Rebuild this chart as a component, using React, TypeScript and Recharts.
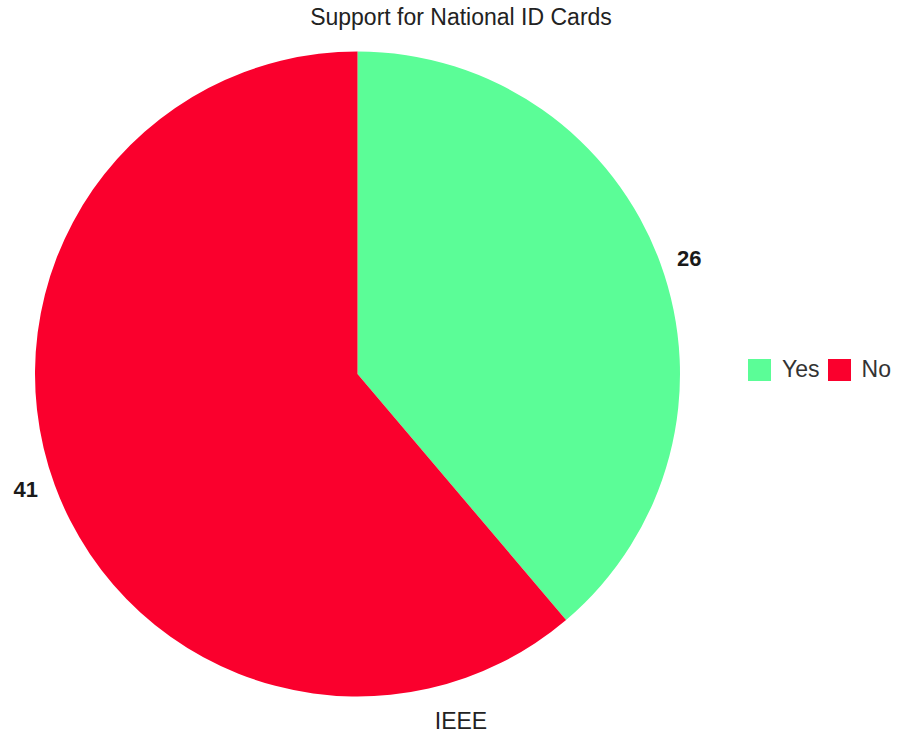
import { Cell, Legend, Pie, PieChart } from 'recharts';

const categories = ['Yes', 'No'];
const counts = [26, 41];
const colors = ['#5BFD97', '#FA002D'];

const title = 'Support for National ID Cards';
const caption = 'IEEE';

const data = categories.map((name, i) => ({ name, value: counts[i] }));

const FONT = '"Liberation Sans", Arial, sans-serif';
const RAD = Math.PI / 180;

function renderLabel(props: any) {
  const { cx, cy, midAngle, outerRadius, value } = props;
  const r = outerRadius + 31;
  const x = cx + r * Math.cos(-midAngle * RAD);
  const y = cy + r * Math.sin(-midAngle * RAD) * 0.95;
  return (
    <text
      x={x}
      y={y}
      textAnchor="middle"
      dominantBaseline="central"
      fill="#1a1a1a"
      fontWeight="bold"
      fontSize={22}
      fontFamily={FONT}
    >
      {value}
    </text>
  );
}

function renderLegend() {
  return (
    <div style={{ display: 'flex', alignItems: 'center', fontFamily: FONT, fontSize: 23, color: '#333' }}>
      {categories.map((c, i) => (
        <div key={c} style={{ display: 'flex', alignItems: 'center', marginRight: 8 }}>
          <span style={{ width: 23, height: 22, background: colors[i], display: 'inline-block', marginRight: 11 }} />
          <span>{c}</span>
        </div>
      ))}
    </div>
  );
}

export default function App() {
  return (
    <div style={{ position: 'absolute', left: 0, top: 0, width: 898, height: 738, background: '#fff' }}>
      <div
        style={{
          position: 'absolute',
          top: 4,
          left: 0,
          width: 922,
          textAlign: 'center',
          fontFamily: FONT,
          fontSize: 23,
          color: '#222',
        }}
      >
        {title}
      </div>
      <PieChart width={898} height={738} margin={{ top: 0, right: 0, bottom: 0, left: 0 }}>
        <Pie
          data={data}
          dataKey="value"
          nameKey="name"
          cx={357.5}
          cy={374}
          outerRadius={322.5}
          startAngle={90}
          endAngle={-270}
          stroke="none"
          label={renderLabel}
          labelLine={false}
          isAnimationActive={false}
        >
          {data.map((d, i) => (
            <Cell key={d.name} fill={colors[i]} />
          ))}
        </Pie>
        <Legend
          content={renderLegend}
          wrapperStyle={{ position: 'absolute', left: 748, top: 356, width: 150 }}
        />
      </PieChart>
      <div
        style={{
          position: 'absolute',
          top: 708,
          left: 0,
          width: 922,
          textAlign: 'center',
          fontFamily: FONT,
          fontSize: 23,
          color: '#222',
        }}
      >
        {caption}
      </div>
    </div>
  );
}
